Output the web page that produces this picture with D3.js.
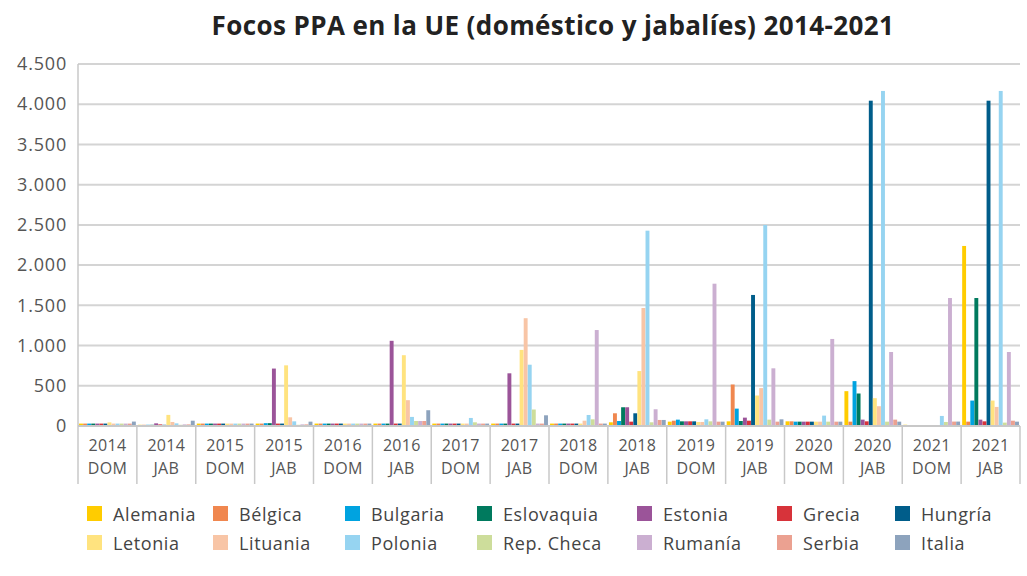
<!DOCTYPE html>
<html>
<head>
<meta charset="utf-8">
<script src="https://cdn.jsdelivr.net/npm/d3@7"></script>
<style>
  body { margin: 0; background: #fff; }
  text { font-family: "Open Sans", "DejaVu Sans", sans-serif; }
</style>
</head>
<body>
<div id="chart"></div>
<script>
// Group labels (year + DOM/JAB)
var years = ["2014","2014","2015","2015","2016","2016","2017","2017",
             "2018","2018","2019","2019","2020","2020","2021","2021"];
var kinds = ["DOM","JAB","DOM","JAB","DOM","JAB","DOM","JAB",
             "DOM","JAB","DOM","JAB","DOM","JAB","DOM","JAB"];

var countries = ["Alemania","Bélgica","Bulgaria","Eslovaquia","Estonia","Grecia","Hungría",
                 "Letonia","Lituania","Polonia","Rep. Checa","Rumanía","Serbia","Italia"];
var colors = ["#ffcc00","#f0874f","#00a3e0","#007a5e","#9b5499","#d7333a","#005d8a",
              "#ffe37f","#f8c5a6","#96d4f1","#cddd9b","#cbafd1","#eba191","#8da3bd"];

// Outbreaks per group
var alemania   = [30,15,30,30,30,30,30,30,30,46,54,58,58,433,15,2238];
var belgica    = [30,15,30,30,30,30,30,30,30,158,66,516,58,54,3,54];
var bulgaria   = [30,15,30,35,30,30,30,30,30,62,79,216,54,558,3,316];
var eslovaquia = [30,15,30,35,30,30,30,30,30,233,58,62,54,404,10,1591];
var estonia    = [30,33,30,714,30,1059,30,655,30,233,58,104,54,79,10,79];
var grecia     = [30,20,30,30,30,30,30,30,30,54,58,66,54,58,2,58];
var hungria    = [30,15,30,30,30,30,30,30,30,158,58,1629,54,4044,3,4044];
var letonia    = [45,138,30,754,30,880,30,946,30,683,50,379,54,346,10,316];
var lituania   = [30,50,30,108,30,321,30,1340,66,1467,50,471,54,246,10,237];
var polonia    = [30,33,30,58,30,113,100,762,137,2428,83,2499,129,4165,125,4165];
var repCheca   = [30,15,30,15,30,62,46,205,83,46,58,79,54,54,50,42];
var rumania    = [30,20,30,20,30,62,30,30,1193,208,1769,717,1082,920,1591,920];
var serbia     = [30,20,30,20,30,62,30,30,30,75,54,54,54,79,55,66];
var italia     = [55,66,30,54,30,196,30,133,30,75,54,83,54,54,55,54];

var series = [alemania,belgica,bulgaria,eslovaquia,estonia,grecia,hungria,
              letonia,lituania,polonia,repCheca,rumania,serbia,italia];

var yTicks = [0,500,1000,1500,2000,2500,3000,3500,4000,4500];

// Layout
var W = 1027, H = 576;
var margin = {top: 64, right: 7, bottom: 150, left: 78},
    width = W - margin.left - margin.right,
    height = H - margin.top - margin.bottom;

var svg = d3.select("#chart").append("svg")
    .attr("width", W).attr("height", H);

// Title
svg.append("text")
  .attr("x", 553).attr("y", 35)
  .attr("text-anchor", "middle")
  .style("font-size", "26px")
  .style("font-weight", "bold")
  .style("letter-spacing", "0.4px")
  .style("fill", "#222")
  .text("Focos PPA en la UE (doméstico y jabalíes) 2014-2021");

var g = svg.append("g")
  .attr("transform", "translate(" + margin.left + "," + margin.top + ")");

var groupIdx = d3.range(years.length);

var x0 = d3.scaleBand().domain(groupIdx).range([0, width]).paddingInner(0.03).paddingOuter(0.015);
var x1 = d3.scaleBand().domain(d3.range(countries.length)).range([0, x0.bandwidth()]).padding(0.04);
var y = d3.scaleLinear().domain([0, 4500]).range([height, 0]);

var es = d3.formatLocale({decimal: ",", thousands: ".", grouping: [3], currency: ["", "€"]});
var fmt = es.format(",d");

// Gridlines
g.append("g")
  .selectAll("line")
  .data(yTicks.slice(1))
  .enter().append("line")
    .attr("x1", 0).attr("x2", width)
    .attr("y1", function(d) { return y(d); })
    .attr("y2", function(d) { return y(d); })
    .style("stroke", "#d4d4d4")
    .style("stroke-width", 2);

// Y axis
var yAxis = g.append("g")
  .call(d3.axisLeft(y).tickValues(yTicks).tickFormat(fmt).tickSize(0).tickPadding(11));
yAxis.select(".domain").remove();
yAxis.selectAll("text")
  .style("font-size", "18px")
  .style("letter-spacing", "0.8px")
  .style("fill", "#555")
  .style("font-family", "'Open Sans', sans-serif");

// Bars
var groups = g.selectAll(".grp")
  .data(groupIdx)
  .enter().append("g")
    .attr("class", "grp")
    .attr("transform", function(d) { return "translate(" + x0(d) + ",0)"; });

groups.selectAll("rect")
  .data(function(gi) {
    return series.map(function(s, si) { return {si: si, v: s[gi]}; });
  })
  .enter().append("rect")
    .attr("x", function(d) { return x1(d.si); })
    .attr("width", x1.bandwidth())
    .attr("y", function(d) { return y(d.v); })
    .attr("height", function(d) { return height - y(d.v); })
    .style("fill", function(d) { return colors[d.si]; });

// X axis: baseline, separators, two-line labels
g.append("line")
  .attr("x1", 0).attr("x2", width)
  .attr("y1", height).attr("y2", height)
  .style("stroke", "#c8c8c8").style("stroke-width", 2);

g.append("line")
  .attr("x1", 0).attr("x2", 0)
  .attr("y1", 0).attr("y2", height + 58)
  .style("stroke", "#c8c8c8").style("stroke-width", 1.5);

g.selectAll(".sep")
  .data(groupIdx)
  .enter().append("line")
    .attr("class", "sep")
    .attr("x1", function(d) { return width * (d + 1) / years.length; })
    .attr("x2", function(d) { return width * (d + 1) / years.length; })
    .attr("y1", height).attr("y2", height + 58)
    .style("stroke", "#c8c8c8").style("stroke-width", 1.5);

var labels = g.selectAll(".xl")
  .data(groupIdx)
  .enter().append("text")
    .attr("class", "xl")
    .attr("text-anchor", "middle")
    .attr("x", function(d) { return x0(d) + x0.bandwidth() / 2; })
    .style("font-size", "16px")
    .style("letter-spacing", "0.3px")
    .style("fill", "#555");
labels.append("tspan")
  .attr("x", function(d) { return x0(d) + x0.bandwidth() / 2; })
  .attr("y", height + 25)
  .text(function(d) { return years[d]; });
labels.append("tspan")
  .attr("x", function(d) { return x0(d) + x0.bandwidth() / 2; })
  .attr("y", height + 48)
  .text(function(d) { return kinds[d]; });

// Legend (2 rows x 7 columns)
var legendCols = [87, 213, 345, 477, 637, 777, 895];
var legendRows = [506, 535];

var legend = svg.selectAll(".leg")
  .data(countries)
  .enter().append("g")
    .attr("class", "leg")
    .attr("transform", function(d, i) {
      return "translate(" + legendCols[i % 7] + "," + legendRows[Math.floor(i / 7)] + ")";
    });

legend.append("rect")
  .attr("width", 15).attr("height", 15)
  .style("fill", function(d, i) { return colors[i]; });

legend.append("text")
  .attr("x", 26).attr("y", 15)
  .style("font-size", "18px")
  .style("letter-spacing", "0.6px")
  .style("fill", "#444")
  .text(function(d) { return d; });
</script>
</body>
</html>
